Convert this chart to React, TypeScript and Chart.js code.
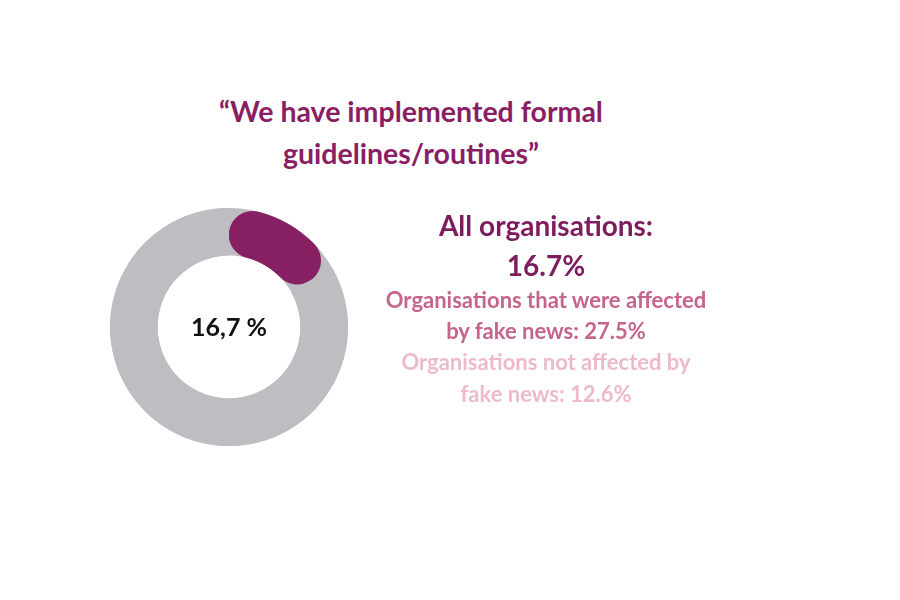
import React, { useEffect, useRef } from 'react';
import { Chart, registerables } from 'chart.js';

Chart.register(...registerables);

const labels = ['Implemented', 'Not implemented'];
const values = [16.7, 83.3];
const centerLabel = '16,7 %';
const titleLines = ['\u201cWe have implemented formal', 'guidelines/routines\u201d'];
const allLines = ['All organisations:', '16.7%'];
const affectedLines = ['Organisations that were affected', 'by fake news: 27.5%'];
const notAffectedLines = ['Organisations not affected by', 'fake news: 12.6%'];

const PURPLE = '#871F63';
const GREY = '#BEBEC2';
const FONT = 'Lato, "Open Sans", sans-serif';

// grey full ring behind the arcs so the rounded purple ends sit on grey
const ringBackground = {
  id: 'ringBackground',
  beforeDatasetsDraw(chart: any) {
    const arc = chart.getDatasetMeta(0).data[0];
    if (!arc) return;
    const { x, y, innerRadius, outerRadius } = arc;
    const ctx = chart.ctx;
    ctx.save();
    ctx.beginPath();
    ctx.arc(x, y, outerRadius, 0, Math.PI * 2);
    ctx.arc(x, y, innerRadius, 0, Math.PI * 2, true);
    ctx.fillStyle = GREY;
    ctx.fill();
    ctx.restore();
  },
};

const centerText = {
  id: 'centerText',
  afterDraw(chart: any) {
    const arc = chart.getDatasetMeta(0).data[0];
    if (!arc) return;
    const ctx = chart.ctx;
    ctx.save();
    ctx.font = `700 25px ${FONT}`;
    ctx.fillStyle = '#111';
    ctx.textAlign = 'center';
    ctx.textBaseline = 'middle';
    ctx.fillText(centerLabel, arc.x, arc.y + 1);
    ctx.restore();
  },
};

const Donut: React.FC = () => {
  const canvasRef = useRef<HTMLCanvasElement | null>(null);
  const chartRef = useRef<Chart | null>(null);

  useEffect(() => {
    if (!canvasRef.current) return;
    chartRef.current = new Chart(canvasRef.current, {
      type: 'doughnut',
      data: {
        labels,
        datasets: [{
          data: values,
          backgroundColor: [PURPLE, GREY],
          borderWidth: 0,
          borderRadius: [24, 0] as any,
        }],
      },
      options: {
        responsive: true,
        maintainAspectRatio: false,
        animation: false,
        cutout: '60%',
        plugins: {
          legend: { display: false },
          tooltip: { enabled: false },
        },
      },
      plugins: [ringBackground, centerText],
    });
    return () => {
      if (chartRef.current) chartRef.current.destroy();
    };
  }, []);

  return <canvas ref={canvasRef} />;
};

const lineStyle = (size: number, color: string, weight: number, lh: number): React.CSSProperties => ({
  fontFamily: FONT,
  fontSize: size,
  color,
  fontWeight: weight,
  lineHeight: `${lh}px`,
  textAlign: 'center',
  margin: 0,
});

const App: React.FC = () => {
  return (
    <div style={{ position: 'relative', width: 884, height: 584 }}>
      <div style={{ position: 'absolute', left: 203, top: 82, width: 400, ...lineStyle(28.5, '#8A1E64', 700, 42) }}>
        {titleLines.map((l) => <div key={l}>{l}</div>)}
      </div>
      <div style={{ position: 'absolute', left: 102, top: 200, width: 238, height: 238 }}>
        <Donut />
      </div>
      <div style={{ position: 'absolute', left: 338, top: 197, width: 400 }}>
        <div style={lineStyle(28, '#7E1D5E', 700, 40)}>
          {allLines.map((l) => <div key={l}>{l}</div>)}
        </div>
        <div style={{ ...lineStyle(22, '#C6648C', 700, 31), marginTop: -1 }}>
          {affectedLines.map((l) => <div key={l}>{l}</div>)}
        </div>
        <div style={lineStyle(22, '#EDBACD', 700, 32)}>
          {notAffectedLines.map((l) => <div key={l}>{l}</div>)}
        </div>
      </div>
    </div>
  );
};

export default App;
